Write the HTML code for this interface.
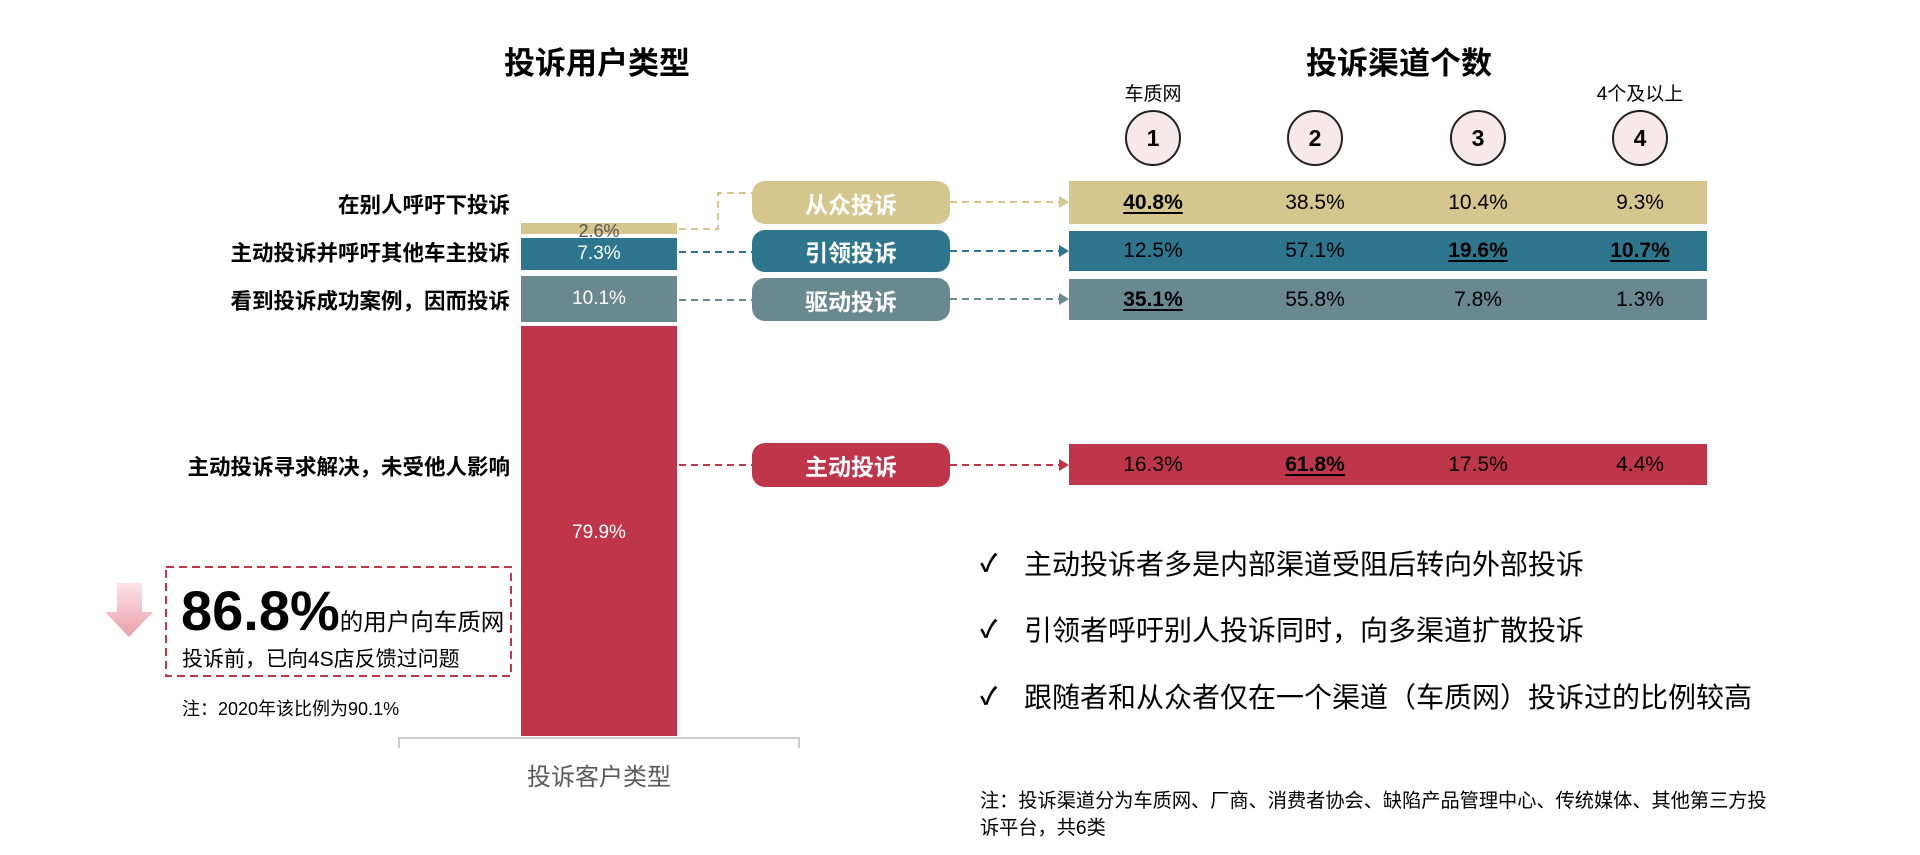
<!DOCTYPE html>
<html><head><meta charset="utf-8"><style>
body{margin:0;width:1920px;height:855px;background:#fff;position:relative;overflow:hidden;font-family:"Liberation Sans","Noto Sans CJK SC",sans-serif;color:#000}
.a{position:absolute;white-space:nowrap}
.t{font-weight:bold;font-size:31px;transform:translateX(-50%)}
.lab{font-weight:bold;font-size:21.5px;right:1410px;transform:translateY(-50%)}
.seg{position:absolute;left:521px;width:156px;color:#fff;font-size:19px;display:flex;align-items:center;justify-content:center}
.pill{position:absolute;left:752px;width:198px;border-radius:13px;color:#fff;font-weight:bold;font-size:23px;display:flex;align-items:center;justify-content:center}
.row{position:absolute;left:1069px;width:638px;font-size:21px}
.row span{position:absolute;top:50%;transform:translate(-50%,-50%)}
.u{font-weight:bold;text-decoration:underline;text-underline-offset:3px}
.c{position:absolute;width:52px;height:52px;border:2px solid #222;border-radius:50%;background:#f6e8eb;font-weight:bold;font-size:23px;display:flex;align-items:center;justify-content:center;top:110px}
.b{font-size:28px;left:1024px;transform:translateY(-50%)}
.ck{font-size:24px;left:980px;transform:translateY(-50%);font-weight:bold}
</style></head><body>
<div class="a t" style="left:597px;top:38px">投诉用户类型</div>
<div class="a t" style="left:1399px;top:38px">投诉渠道个数</div>

<div class="a lab" style="top:204px">在别人呼吁下投诉</div>
<div class="a lab" style="top:252px">主动投诉并呼吁其他车主投诉</div>
<div class="a lab" style="top:300px">看到投诉成功案例，因而投诉</div>
<div class="a lab" style="top:466px">主动投诉寻求解决，未受他人影响</div>

<div class="seg" style="top:223px;background:#d5c68d;color:#555;font-size:18px;line-height:11px;align-items:flex-start;padding-top:3px;height:8px">2.6%</div>
<div class="seg" style="top:238px;height:32px;background:#2e768e">7.3%</div>
<div class="seg" style="top:276px;height:46px;background:#6a8890">10.1%</div>
<div class="seg" style="top:326px;background:#bf3549;font-size:19px;align-items:flex-start;padding-top:196px;height:214px">79.9%</div>

<svg class="a" style="left:0;top:0" width="1920" height="855">
<g fill="none" stroke-width="2" stroke-dasharray="7,5">
<path d="M679 229 H718 V193 H752" stroke="#d5c68d"/>
<path d="M679 252 H752" stroke="#2e768e"/>
<path d="M679 300 H752" stroke="#6a8890"/>
<path d="M679 465 H752" stroke="#bf3549"/>
<path d="M950 202 H1059" stroke="#d5c68d"/>
<path d="M950 251 H1059" stroke="#2e768e"/>
<path d="M950 299 H1059" stroke="#6a8890"/>
<path d="M950 465 H1059" stroke="#bf3549"/>
</g>
<path d="M1059 196 L1069 202 L1059 208Z" fill="#d5c68d"/>
<path d="M1059 245 L1069 251 L1059 257Z" fill="#2e768e"/>
<path d="M1059 293 L1069 299 L1059 305Z" fill="#6a8890"/>
<path d="M1059 459 L1069 465 L1059 471Z" fill="#bf3549"/>
<path d="M399 748 V738 H799 V748" fill="none" stroke="#ccc" stroke-width="2"/>
<rect x="166" y="567" width="345" height="109" fill="none" stroke="#bf3549" stroke-width="2" stroke-dasharray="8,5"/>
<defs><linearGradient id="g" x1="0" y1="0" x2="0" y2="1"><stop offset="0" stop-color="#fbe3e6"/><stop offset="1" stop-color="#e9a0aa"/></linearGradient></defs>
<path d="M117 583 H142 V612 H153 L129 637 L105 612 H117Z" fill="url(#g)"/>
</svg>

<div class="pill" style="top:181px;height:43px;background:#d5c68d">从众投诉</div>
<div class="pill" style="top:230px;height:42px;background:#2e768e">引领投诉</div>
<div class="pill" style="top:278px;height:43px;background:#6a8890">驱动投诉</div>
<div class="pill" style="top:443px;height:44px;background:#bf3549">主动投诉</div>

<div class="a" style="left:1153px;top:79px;font-size:19px;transform:translateX(-50%)">车质网</div>
<div class="a" style="left:1640px;top:79px;font-size:19px;transform:translateX(-50%)">4个及以上</div>
<div class="c" style="left:1125px">1</div>
<div class="c" style="left:1287px">2</div>
<div class="c" style="left:1450px">3</div>
<div class="c" style="left:1612px">4</div>

<div class="row" style="top:181px;height:43px;background:#d5c68d"><span class="u" style="left:84px">40.8%</span><span style="left:246px">38.5%</span><span style="left:409px">10.4%</span><span style="left:571px">9.3%</span></div>
<div class="row" style="top:231px;height:40px;background:#2e768e"><span style="left:84px">12.5%</span><span style="left:246px">57.1%</span><span class="u" style="left:409px">19.6%</span><span class="u" style="left:571px">10.7%</span></div>
<div class="row" style="top:279px;height:41px;background:#6a8890"><span class="u" style="left:84px">35.1%</span><span style="left:246px">55.8%</span><span style="left:409px">7.8%</span><span style="left:571px">1.3%</span></div>
<div class="row" style="top:444px;height:41px;background:#bf3549"><span style="left:84px">16.3%</span><span class="u" style="left:246px">61.8%</span><span style="left:409px">17.5%</span><span style="left:571px">4.4%</span></div>

<div class="a ck" style="top:561px">✓</div><div class="a b" style="top:563px">主动投诉者多是内部渠道受阻后转向外部投诉</div>
<div class="a ck" style="top:627px">✓</div><div class="a b" style="top:629px">引领者呼吁别人投诉同时，向多渠道扩散投诉</div>
<div class="a ck" style="top:694px">✓</div><div class="a b" style="top:696px">跟随者和从众者仅在一个渠道（车质网）投诉过的比例较高</div>

<div class="a" style="left:980px;top:788px;font-size:19.2px;line-height:27px">注：投诉渠道分为车质网、厂商、消费者协会、缺陷产品管理中心、传统媒体、其他第三方投<br>诉平台，共6类</div>

<div class="a" style="left:599px;top:757px;font-size:24px;color:#595959;transform:translateX(-50%)">投诉客户类型</div>

<div class="a" style="left:181px;top:578px"><span style="font-size:56px;font-weight:bold">86.8%</span><span style="font-size:23.5px">的用户向车质网</span></div>
<div class="a" style="left:182px;top:643px;font-size:21px">投诉前，已向4S店反馈过问题</div>
<div class="a" style="left:182px;top:695px;font-size:18px">注：2020年该比例为90.1%</div>
</body></html>
